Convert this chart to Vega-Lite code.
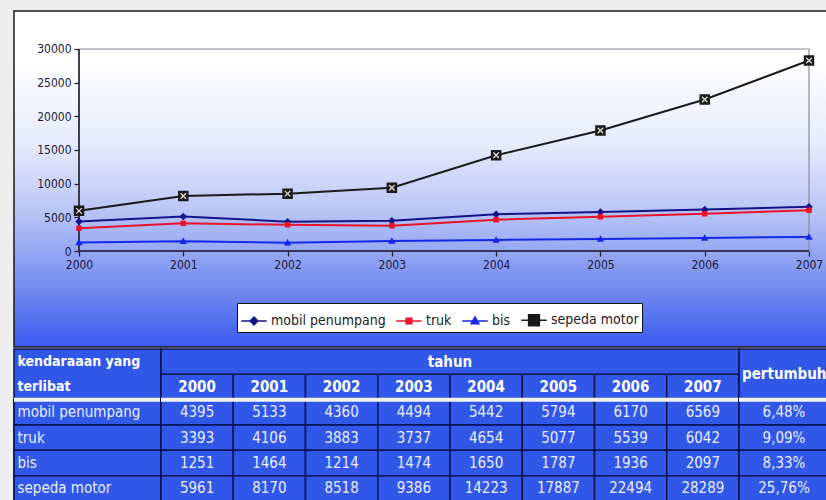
{
  "$schema": "https://vega.github.io/schema/vega-lite/v6.json",
  "background": "#eeeeee",
  "padding": {"left": 11, "top": 10, "right": 0, "bottom": 2},
  "spacing": 0,
  "config": {
    "font": "Liberation Sans Narrow, DejaVu Sans Condensed, DejaVu Sans, sans-serif",
    "view": {"stroke": null},
    "axis": {
      "domain": false, "grid": false, "ticks": true, "tickSize": 5,
      "tickColor": "#1a1a2a", "tickWidth": 1.2, "labelPadding": 3,
      "labelFontSize": 12, "labelColor": "#1a1a3a", "labelFlush": false,
      "labelFont": "Liberation Sans Narrow, DejaVu Sans Condensed, DejaVu Sans, sans-serif"
    }
  },
  "datasets": {
    "kecelakaan": [
      {"kendaraan": "mobil penumpang", "tahun": 2000, "jumlah": 4395},
      {"kendaraan": "mobil penumpang", "tahun": 2001, "jumlah": 5133},
      {"kendaraan": "mobil penumpang", "tahun": 2002, "jumlah": 4360},
      {"kendaraan": "mobil penumpang", "tahun": 2003, "jumlah": 4494},
      {"kendaraan": "mobil penumpang", "tahun": 2004, "jumlah": 5442},
      {"kendaraan": "mobil penumpang", "tahun": 2005, "jumlah": 5794},
      {"kendaraan": "mobil penumpang", "tahun": 2006, "jumlah": 6170},
      {"kendaraan": "mobil penumpang", "tahun": 2007, "jumlah": 6569},
      {"kendaraan": "truk", "tahun": 2000, "jumlah": 3393},
      {"kendaraan": "truk", "tahun": 2001, "jumlah": 4106},
      {"kendaraan": "truk", "tahun": 2002, "jumlah": 3883},
      {"kendaraan": "truk", "tahun": 2003, "jumlah": 3737},
      {"kendaraan": "truk", "tahun": 2004, "jumlah": 4654},
      {"kendaraan": "truk", "tahun": 2005, "jumlah": 5077},
      {"kendaraan": "truk", "tahun": 2006, "jumlah": 5539},
      {"kendaraan": "truk", "tahun": 2007, "jumlah": 6042},
      {"kendaraan": "bis", "tahun": 2000, "jumlah": 1251},
      {"kendaraan": "bis", "tahun": 2001, "jumlah": 1464},
      {"kendaraan": "bis", "tahun": 2002, "jumlah": 1214},
      {"kendaraan": "bis", "tahun": 2003, "jumlah": 1474},
      {"kendaraan": "bis", "tahun": 2004, "jumlah": 1650},
      {"kendaraan": "bis", "tahun": 2005, "jumlah": 1787},
      {"kendaraan": "bis", "tahun": 2006, "jumlah": 1936},
      {"kendaraan": "bis", "tahun": 2007, "jumlah": 2097},
      {"kendaraan": "sepeda motor", "tahun": 2000, "jumlah": 5961},
      {"kendaraan": "sepeda motor", "tahun": 2001, "jumlah": 8170},
      {"kendaraan": "sepeda motor", "tahun": 2002, "jumlah": 8518},
      {"kendaraan": "sepeda motor", "tahun": 2003, "jumlah": 9386},
      {"kendaraan": "sepeda motor", "tahun": 2004, "jumlah": 14223},
      {"kendaraan": "sepeda motor", "tahun": 2005, "jumlah": 17887},
      {"kendaraan": "sepeda motor", "tahun": 2006, "jumlah": 22494},
      {"kendaraan": "sepeda motor", "tahun": 2007, "jumlah": 28289}
    ],
    "pertumbuhan": [
      {"kendaraan": "mobil penumpang", "pertumbuhan": "6,48%"},
      {"kendaraan": "truk", "pertumbuhan": "9,09%"},
      {"kendaraan": "bis", "pertumbuhan": "8,33%"},
      {"kendaraan": "sepeda motor", "pertumbuhan": "25,76%"}
    ],
    "tahun": [
      {"tahun": 2000}, {"tahun": 2001}, {"tahun": 2002}, {"tahun": 2003},
      {"tahun": 2004}, {"tahun": 2005}, {"tahun": 2006}, {"tahun": 2007}
    ]
  },
  "vconcat": [
    {
      "width": 815,
      "height": 336,
      "view": {
        "fill": {
          "gradient": "linear", "x1": 0, "y1": 0, "x2": 0, "y2": 1,
          "stops": [
            {"offset": 0, "color": "#ffffff"},
            {"offset": 0.15, "color": "#ffffff"},
            {"offset": 0.4, "color": "#e6eafc"},
            {"offset": 0.6, "color": "#b8c4f6"},
            {"offset": 0.8, "color": "#7b91f1"},
            {"offset": 1, "color": "#3a5bee"}
          ]
        },
        "stroke": "#1a1a1a",
        "strokeWidth": 1.5
      },
      "data": {"name": "kecelakaan"},
      "layer": [
        {
          "data": {"values": [{}]},
          "mark": {"type": "rect", "fill": null, "stroke": "#8a8a9a", "strokeWidth": 1.2},
          "encoding": {
            "x": {"datum": 2000, "type": "quantitative"},
            "x2": {"datum": 2007},
            "y": {"datum": 0, "type": "quantitative"},
            "y2": {"datum": 30000}
          }
        },
        {
          "data": {"values": [{}]},
          "mark": {"type": "rule", "color": "#1a1a2a", "strokeWidth": 1.5},
          "encoding": {
            "x": {"datum": 2000, "type": "quantitative"},
            "y": {"datum": 0, "type": "quantitative"},
            "y2": {"datum": 30000}
          }
        },
        {
          "data": {"values": [{}]},
          "mark": {"type": "rule", "color": "#1a1a2a", "strokeWidth": 1.5},
          "encoding": {
            "x": {"datum": 2000, "type": "quantitative"},
            "x2": {"datum": 2007},
            "y": {"datum": 0, "type": "quantitative"}
          }
        },
        {
          "mark": {"type": "line", "strokeWidth": 2},
          "encoding": {
            "x": {
              "field": "tahun", "type": "quantitative",
              "scale": {"domain": [1999.3767, 2007.1918], "nice": false, "zero": false},
              "axis": {"values": [2000, 2001, 2002, 2003, 2004, 2005, 2006, 2007], "format": "d", "offset": -96, "title": null}
            },
            "y": {
              "field": "jumlah", "type": "quantitative",
              "scale": {"domain": [-14257, 35643], "nice": false, "zero": false},
              "axis": {"values": [0, 5000, 10000, 15000, 20000, 25000, 30000], "format": "d", "offset": -65, "title": null}
            },
            "color": {
              "field": "kendaraan", "type": "nominal",
              "scale": {
                "domain": ["mobil penumpang", "truk", "bis", "sepeda motor"],
                "range": ["#141488", "#e8142a", "#1428e8", "#1a1a1a"]
              },
              "legend": {
                "title": null, "orient": "none", "legendX": 223, "legendY": 292,
                "direction": "horizontal", "fillColor": "#ffffff", "strokeColor": "#111111",
                "padding": 3, "labelFontSize": 14, "labelColor": "#222222",
                "labelFont": "Liberation Sans Narrow, DejaVu Sans Condensed, DejaVu Sans, sans-serif",
                "symbolSize": 650, "symbolStrokeWidth": 1.6, "columnPadding": 7, "labelOffset": 3
              }
            }
          }
        },
        {
          "mark": {"type": "point", "filled": true, "opacity": 1, "size": 625},
          "encoding": {
            "x": {"field": "tahun", "type": "quantitative"},
            "y": {"field": "jumlah", "type": "quantitative"},
            "color": {"field": "kendaraan", "type": "nominal", "legend": null},
            "shape": {
              "field": "kendaraan", "type": "nominal", "legend": null,
              "scale": {
                "domain": ["mobil penumpang", "truk", "bis", "sepeda motor"],
                "range": [
                  "M-1,0H1M0,-0.3L0.3,0L0,0.3L-0.3,0Z",
                  "M-1,0H1M-0.22,-0.22H0.22V0.22H-0.22Z",
                  "M-1,0H1M0,-0.3L0.3,0.22H-0.3Z",
                  "M-1,0H1M-0.42,-0.42H0.42V0.42H-0.42Z"
                ]
              }
            }
          }
        },
        {
          "transform": [{"filter": "datum.kendaraan === 'sepeda motor'"}],
          "mark": {
            "type": "point", "filled": false, "size": 120,
            "shape": "M-0.5,-0.5L0.5,0.5M0.5,-0.5L-0.5,0.5",
            "stroke": "#e0e0e0", "strokeWidth": 1.3, "opacity": 1
          },
          "encoding": {
            "x": {"field": "tahun", "type": "quantitative"},
            "y": {"field": "jumlah", "type": "quantitative"}
          }
        }
      ]
    },
    {
      "spacing": 0,
      "bounds": "flush",
      "hconcat": [
        {
          "width": 147, "height": 152,
          "view": {"fill": "#3157e9", "stroke": "#0a1250", "strokeWidth": 1.5},
          "layer": [
            {
              "data": {"name": "pertumbuhan"},
              "mark": {"type": "rect", "fill": "#3157e9", "stroke": "#0a1250", "strokeWidth": 1.5},
              "encoding": {
                "y": {"field": "kendaraan", "type": "nominal", "axis": null,
                      "scale": {"domain": ["h1", "h2", "mobil penumpang", "truk", "bis", "sepeda motor"], "paddingInner": 0, "paddingOuter": 0}}
              }
            },
            {
              "data": {"values": [{"judul": "kendaraaan yang\nterlibat"}]},
              "mark": {
                "type": "text", "align": "left", "baseline": "middle", "dx": -70,
                "lineBreak": "\n", "lineHeight": 25.33, "fontSize": 14,
                "fontWeight": "bold", "color": "#ffffff"
              },
              "encoding": {
                "y": {"datum": "h1", "type": "nominal", "axis": null},
                "text": {"field": "judul"}
              }
            },
            {
              "data": {"name": "pertumbuhan"},
              "mark": {"type": "text", "align": "left", "baseline": "middle", "dx": -70,
                       "fontSize": 15, "color": "#e8eeff"},
              "encoding": {
                "y": {"field": "kendaraan", "type": "nominal", "axis": null},
                "text": {"field": "kendaraan"}
              }
            },
            {
              "data": {"values": [{}]},
              "mark": {"type": "rule", "color": "#f4f4f4", "strokeWidth": 4},
              "encoding": {
                "y": {"datum": "mobil penumpang", "type": "nominal", "bandPosition": 0, "axis": null}
              }
            }
          ]
        },
        {
          "width": 578, "height": 152,
          "view": {"fill": "#3157e9", "stroke": "#0a1250", "strokeWidth": 1.5},
          "layer": [
            {
              "data": {"name": "tahun"},
              "mark": {"type": "rect", "fill": "#3157e9", "stroke": "#0a1250", "strokeWidth": 1.5},
              "encoding": {
                "x": {"field": "tahun", "type": "ordinal", "axis": null,
                      "scale": {"paddingInner": 0, "paddingOuter": 0}},
                "y": {"datum": "h2", "type": "nominal", "axis": null,
                      "scale": {"domain": ["h1", "h2", "mobil penumpang", "truk", "bis", "sepeda motor"], "paddingInner": 0, "paddingOuter": 0}}
              }
            },
            {
              "data": {"name": "kecelakaan"},
              "mark": {"type": "rect", "fill": "#3157e9", "stroke": "#0a1250", "strokeWidth": 1.5},
              "encoding": {
                "x": {"field": "tahun", "type": "ordinal", "axis": null},
                "y": {"field": "kendaraan", "type": "nominal", "axis": null}
              }
            },
            {
              "data": {"values": [{"judul": "tahun"}]},
              "mark": {"type": "text", "align": "center", "baseline": "middle",
                       "fontSize": 15, "fontWeight": "bold", "color": "#ffffff"},
              "encoding": {
                "y": {"datum": "h1", "type": "nominal", "axis": null},
                "text": {"field": "judul"}
              }
            },
            {
              "data": {"name": "tahun"},
              "mark": {"type": "text", "align": "center", "baseline": "middle",
                       "fontSize": 15, "fontWeight": "bold", "color": "#ffffff"},
              "encoding": {
                "x": {"field": "tahun", "type": "ordinal", "axis": null},
                "y": {"datum": "h2", "type": "nominal", "axis": null},
                "text": {"field": "tahun", "type": "ordinal"}
              }
            },
            {
              "data": {"name": "kecelakaan"},
              "mark": {"type": "text", "align": "center", "baseline": "middle",
                       "fontSize": 15, "color": "#e8eeff"},
              "encoding": {
                "x": {"field": "tahun", "type": "ordinal", "axis": null},
                "y": {"field": "kendaraan", "type": "nominal", "axis": null},
                "text": {"field": "jumlah", "type": "quantitative", "format": "d"}
              }
            },
            {
              "data": {"values": [{}]},
              "mark": {"type": "rule", "color": "#f4f4f4", "strokeWidth": 4},
              "encoding": {
                "y": {"datum": "mobil penumpang", "type": "nominal", "bandPosition": 0, "axis": null}
              }
            }
          ]
        },
        {
          "width": 90, "height": 152,
          "view": {"fill": "#3157e9", "stroke": "#0a1250", "strokeWidth": 1.5},
          "layer": [
            {
              "data": {"name": "pertumbuhan"},
              "mark": {"type": "rect", "fill": "#3157e9", "stroke": "#0a1250", "strokeWidth": 1.5},
              "encoding": {
                "y": {"field": "kendaraan", "type": "nominal", "axis": null,
                      "scale": {"domain": ["h1", "h2", "mobil penumpang", "truk", "bis", "sepeda motor"], "paddingInner": 0, "paddingOuter": 0}}
              }
            },
            {
              "data": {"values": [{"judul": "pertumbuhan"}]},
              "mark": {"type": "text", "align": "left", "baseline": "middle", "dx": -42, "dy": 12.7,
                       "fontSize": 15, "fontWeight": "bold", "color": "#ffffff", "clip": true},
              "encoding": {
                "y": {"datum": "h1", "type": "nominal", "axis": null},
                "text": {"field": "judul"}
              }
            },
            {
              "data": {"name": "pertumbuhan"},
              "mark": {"type": "text", "align": "center", "baseline": "middle",
                       "fontSize": 15, "color": "#e8eeff"},
              "encoding": {
                "y": {"field": "kendaraan", "type": "nominal", "axis": null},
                "text": {"field": "pertumbuhan"}
              }
            },
            {
              "data": {"values": [{}]},
              "mark": {"type": "rule", "color": "#f4f4f4", "strokeWidth": 4},
              "encoding": {
                "y": {"datum": "mobil penumpang", "type": "nominal", "bandPosition": 0, "axis": null}
              }
            }
          ]
        }
      ]
    }
  ]
}
